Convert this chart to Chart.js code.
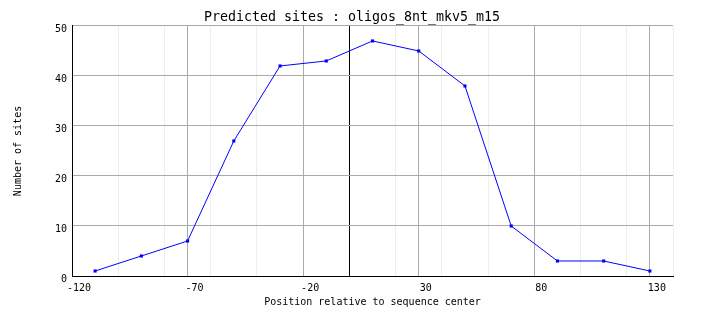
<!DOCTYPE html>
<html>
<head>
<meta charset="utf-8">
<script src="https://cdn.jsdelivr.net/npm/chart.js@4"></script>
<style>
html,body{margin:0;padding:0;background:#fff;}
#wrap{width:704px;height:328px;}
</style>
</head>
<body>
<div id="wrap"><canvas id="c" width="704" height="328"></canvas></div>
<script>
const positions = [-110, -90, -70, -50, -30, -10, 10, 30, 50, 70, 90, 110, 130];
const siteCounts = [1, 4, 7, 27, 42, 43, 47, 45, 38, 10, 3, 3, 1];
const majorTicks = [-120, -70, -20, 30, 80, 130];
const minorTicks = [-120, -100, -80, -60, -40, -20, 0, 20, 40, 60, 80, 100, 120, 140];
const yTicks = [0, 10, 20, 30, 40, 50];

const allX = Array.from(new Set(majorTicks.concat(minorTicks))).sort((a, b) => a - b);
const FONT = "'DejaVu Sans Mono', monospace";

new Chart(document.getElementById('c'), {
  type: 'line',
  data: {
    datasets: [{
      data: positions.map((p, i) => ({x: p, y: siteCounts[i]})),
      borderColor: '#0000ff',
      backgroundColor: '#0000ff',
      borderWidth: 1,
      pointStyle: 'rect',
      pointRadius: 2.2,
      pointBorderWidth: 0,
      tension: 0,
      fill: false
    }]
  },
  options: {
    responsive: false,
    animation: false,
    devicePixelRatio: 1,
    layout: {padding: {left: 0, right: 0, top: 0, bottom: 20}},
    plugins: {
      legend: {display: false},
      tooltip: {enabled: false},
      title: {
        display: true,
        text: 'Predicted sites : oligos_8nt_mkv5_m15',
        color: '#000',
        font: {family: FONT, size: 13.3, weight: 'normal'},
        padding: {top: 10, bottom: 0}
      }
    },
    scales: {
      x: {
        type: 'linear',
        min: -120,
        max: 140,
        afterBuildTicks: s => { s.ticks = allX.map(v => ({value: v})); },
        afterFit: s => { s.height = 32; },
        ticks: {
          autoSkip: false,
          maxRotation: 0,
          padding: 6,
          labelOffset: 7,
          color: '#000',
          font: {family: FONT, size: 10},
          callback: v => majorTicks.includes(v) ? String(v) : ''
        },
        grid: {
          drawTicks: false,
          lineWidth: 1,
          color: ctx => {
            const v = ctx.tick && ctx.tick.value;
            if (v === 0) return '#000000';
            if (majorTicks.includes(v)) return '#aaaaaa';
            return '#eeeeee';
          }
        },
        border: {display: true, color: '#000', width: 1},
        title: {
          display: true,
          text: 'Position relative to sequence center',
          color: '#000',
          font: {family: FONT, size: 10},
          padding: {top: 0, bottom: 0}
        }
      },
      y: {
        min: 0,
        max: 50,
        afterBuildTicks: s => { s.ticks = yTicks.map(v => ({value: v})); },
        afterFit: s => { s.width = 72; },
        ticks: {
          padding: 5,
          labelOffset: 3,
          color: '#000',
          font: {family: FONT, size: 10}
        },
        grid: {drawTicks: false, color: '#aaaaaa', lineWidth: 1},
        border: {display: true, color: '#000', width: 1},
        title: {
          display: true,
          text: 'Number of sites',
          color: '#000',
          font: {family: FONT, size: 10},
          padding: {top: 12, bottom: 0}
        }
      },
      yRight: {
        position: 'right',
        min: 0,
        max: 50,
        afterFit: s => { s.width = 31; },
        ticks: {display: false},
        grid: {display: false, drawTicks: false},
        border: {display: false}
      }
    }
  }
});
</script>
</body>
</html>
